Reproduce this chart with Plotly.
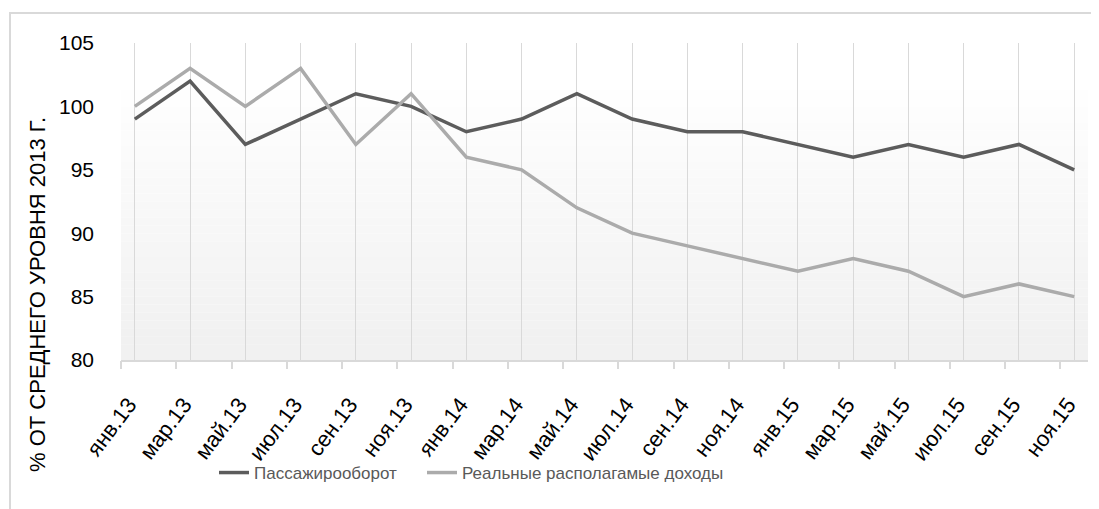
import plotly.graph_objects as go

categories = ["янв.13", "мар.13", "май.13", "июл.13", "сен.13", "ноя.13",
              "янв.14", "мар.14", "май.14", "июл.14", "сен.14", "ноя.14",
              "янв.15", "мар.15", "май.15", "июл.15", "сен.15", "ноя.15"]
passenger = [99, 102, 97, 99, 101, 100, 98, 99, 101, 99, 98, 98, 97, 96, 97, 96, 97, 95]
income = [100, 103, 100, 103, 97, 101, 96, 95, 92, 90, 89, 88, 87, 88, 87, 85, 86, 85]
y_ticks = [80, 85, 90, 95, 100, 105]
y_title = "% ОТ СРЕДНЕГО УРОВНЯ 2013 Г."
names = ["Пассажирооборот", "Реальные располагамые доходы"]

# monthly category axis; labels every second month
xpos = [2 * i for i in range(len(categories))]
boundaries = [2 * i - 0.5 for i in range(len(categories))]
label_pos = [p - 0.22 for p in xpos]

FONT = "Liberation Sans, Arial, sans-serif"

# page body has an 8px offset; plot area is placed in figure pixels
L, R, T, B = 113, 19, 35, 157
PW, PH = 1099 - L - R, 509 - T - B


def px_x(p):
    return (p - L) / PW


def px_y(p):
    return (509 - B - p) / PH


fig = go.Figure()
fig.add_trace(go.Scatter(x=xpos, y=passenger, mode="lines", name=names[0],
                         line=dict(color="#5c5c5c", width=3.5), legend="legend"))
fig.add_trace(go.Scatter(x=xpos, y=income, mode="lines", name=names[1],
                         line=dict(color="#ababab", width=3.5), legend="legend2"))

# gradient plot background
shapes = []
n = 40
for i in range(n):
    t = i / (n - 1)
    v = int(round(255 - (255 - 241) * min(1.0, max(0.0, (t - 0.1) / 0.85))))
    shapes.append(dict(type="rect", xref="x domain", yref="y domain",
                       x0=0, x1=1, y0=1 - (i + 1) / n, y1=1 - i / n,
                       fillcolor=f"rgb({v},{v},{v})", line=dict(width=0),
                       layer="below"))
# outer chart border
shapes.append(dict(type="rect", xref="paper", yref="paper",
                   x0=px_x(2), x1=px_x(1090), y0=px_y(560), y1=px_y(5),
                   line=dict(color="#d9d9d9", width=2), fillcolor="rgba(0,0,0,0)",
                   layer="below"))

legend_common = dict(orientation="h", yanchor="middle", y=px_y(465),
                     xanchor="left", bgcolor="rgba(0,0,0,0)",
                     font=dict(size=17, color="#595959", family=FONT))

fig.update_layout(
    width=1099, height=509,
    margin=dict(l=L, r=R, t=T, b=B, autoexpand=False),
    paper_bgcolor="white", plot_bgcolor="rgba(0,0,0,0)",
    font=dict(family=FONT, color="#000000"),
    shapes=shapes,
    showlegend=True,
    legend=dict(legend_common, x=px_x(206)),
    legend2=dict(legend_common, x=px_x(414)),
    xaxis=dict(range=[-0.5, 34.5], tickmode="array", tickvals=xpos,
               showticklabels=False, ticks="",
               showgrid=True, gridcolor="#d9d9d9", gridwidth=1,
               showline=True, linecolor="#d9d9d9", linewidth=1.5,
               zeroline=False, automargin=False),
    xaxis2=dict(range=[-0.5, 34.5], overlaying="x", anchor="y", side="bottom",
                tickmode="array", tickvals=boundaries, ticktext=[""] * len(boundaries),
                ticks="outside", ticklen=8, tickcolor="#d9d9d9", tickwidth=1.5,
                showgrid=False, showline=False, zeroline=False, showticklabels=False,
                automargin=False),
    xaxis3=dict(range=[-0.5, 34.5], overlaying="x", anchor="y", side="bottom",
                tickmode="array", tickvals=label_pos, ticktext=categories,
                tickangle=-53, ticks="outside", ticklen=22, tickcolor="rgba(0,0,0,0)",
                tickfont=dict(size=22, family=FONT, color="#000"),
                showgrid=False, showline=False, zeroline=False, automargin=False),
    yaxis=dict(range=[80, 105], tickmode="array", tickvals=y_ticks,
               showgrid=False, zeroline=False, showline=False, ticks="",
               ticklabelstandoff=26, automargin=False,
               tickfont=dict(size=21, family=FONT, color="#000")),
    annotations=[dict(text=y_title, textangle=-90, xref="paper", yref="paper",
                      x=px_x(29), y=px_y(287), xanchor="center", yanchor="middle",
                      showarrow=False, font=dict(size=22, family=FONT, color="#000"))],
)
# helper traces that activate the boundary-tick and label axes
fig.add_trace(go.Scatter(x=[boundaries[0]], y=[None], xaxis="x2", showlegend=False,
                         hoverinfo="skip"))
fig.add_trace(go.Scatter(x=[label_pos[0]], y=[None], xaxis="x3", showlegend=False,
                         hoverinfo="skip"))

fig.write_html("out.html")
